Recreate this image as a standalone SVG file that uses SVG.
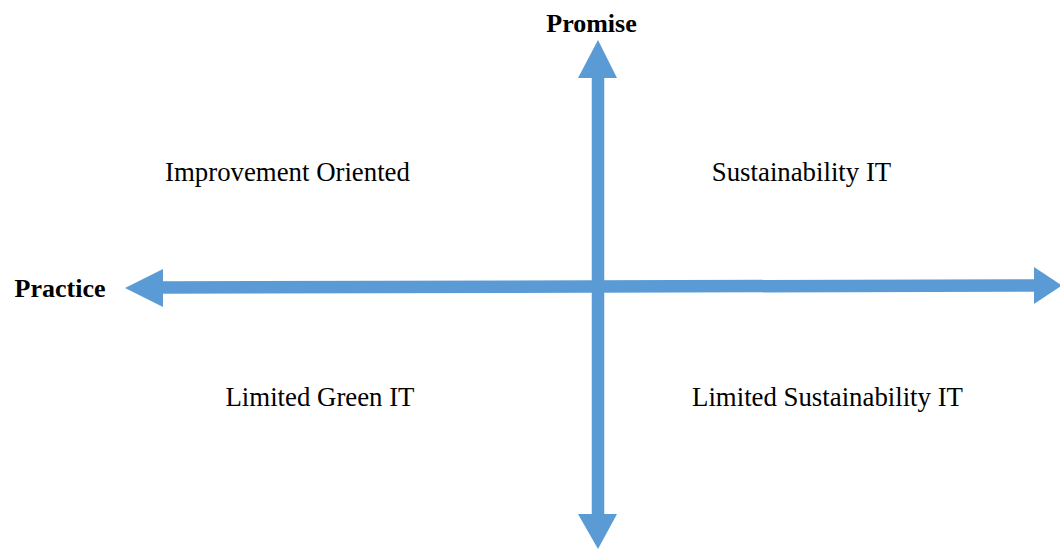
<svg xmlns="http://www.w3.org/2000/svg" width="1060" height="549" viewBox="0 0 1060 549">
  <style>
    .axis { stroke: #5B9BD5; stroke-width: 12.5; fill: none; }
    .head { fill: #5B9BD5; }
    .title { font-family: "Liberation Serif", "Times New Roman", serif; font-size: 26px; font-weight: bold; fill: #000; text-anchor: middle; }
    .label { font-family: "Liberation Serif", "Times New Roman", serif; font-size: 26.8px; fill: #000; text-anchor: middle; }
  </style>
  <rect width="1060" height="549" fill="#fff"/>
  <g id="connectors">
    <!-- vertical axis with heads at both ends -->
    <line class="axis" x1="598" y1="76" x2="598" y2="516"/>
    <polygon class="head" points="598,40 617,78 578,78"/>
    <polygon class="head" points="598,549 617,514 578,514"/>
    <!-- horizontal axis with heads at both ends -->
    <line class="axis" x1="161" y1="287.5" x2="1036" y2="285.5"/>
    <polygon class="head" points="125,288 163,269 163,307"/>
    <polygon class="head" points="1062,285.5 1034,267 1034,304"/>
  </g>
  <g id="promise"><text class="title" x="591.5" y="32">Promise</text></g>
  <g id="practice"><text class="title" x="60" y="297">Practice</text></g>
  <g id="improvement-oriented"><text class="label" x="287.5" y="181">Improvement Oriented</text></g>
  <g id="sustainability-it"><text class="label" x="801.5" y="181">Sustainability IT</text></g>
  <g id="limited-green-it"><text class="label" x="320" y="406">Limited Green IT</text></g>
  <g id="limited-sustainability-it"><text class="label" x="827.5" y="406">Limited Sustainability IT</text></g>
</svg>
